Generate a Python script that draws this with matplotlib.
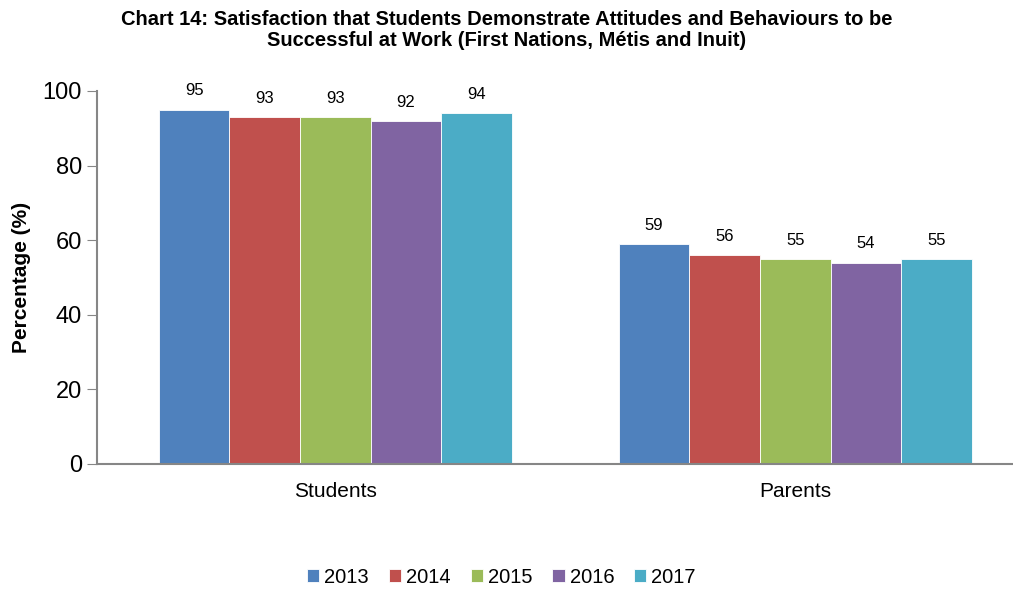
import numpy as np
import matplotlib.pyplot as plt

# data
groups = ["Students", "Parents"]
years = ["2013", "2014", "2015", "2016", "2017"]
v2013 = [95, 59]
v2014 = [93, 56]
v2015 = [93, 55]
v2016 = [92, 54]
v2017 = [94, 55]
series = [v2013, v2014, v2015, v2016, v2017]
colors = ["#4F81BD", "#C0504D", "#9BBB59", "#8064A2", "#4BACC6"]

plt.rcParams['font.family'] = ['Liberation Sans', 'DejaVu Sans']

fig = plt.figure(figsize=(10.13, 5.9), dpi=100)
ax = fig.add_axes([0.0958, 0.2136, 0.9042, 0.6322])

x = np.arange(len(groups))
w = 0.1535
for i in range(len(years)):
    pos = x + (i - 2) * w
    ax.bar(pos, series[i], width=w, color=colors[i], edgecolor="white",
           linewidth=0.6, label=years[i])
    for p, v in zip(pos, series[i]):
        ax.text(p, v + 3, str(v), ha="center", va="bottom", fontsize=12)

ax.set_xlim(-0.518, 1.473)
ax.set_ylim(0, 100)
ax.set_yticks([0, 20, 40, 60, 80, 100])
ax.set_xticks(x)
ax.set_xticklabels(groups, fontsize=15)
ax.tick_params(axis="y", labelsize=17, length=7, color="#868686", pad=4)
ax.tick_params(axis="x", length=0, pad=13)
for s in ["top", "right"]:
    ax.spines[s].set_visible(False)
for s in ["left", "bottom"]:
    ax.spines[s].set_color("#868686")
    ax.spines[s].set_linewidth(1.5)

ax.set_ylabel("Percentage (%)", fontsize=15, fontweight="bold")
ax.yaxis.set_label_coords(-0.072, 0.5)

fig.text(0.5, 0.949, "Chart 14: Satisfaction that Students Demonstrate Attitudes and Behaviours to be\nSuccessful at Work (First Nations, Métis and Inuit)",
         ha="center", va="center", fontsize=14.5, fontweight="bold", linespacing=1.1)

fig.legend(loc="center", bbox_to_anchor=(0.495, 0.022), ncol=5, frameon=False,
           fontsize=14.5, handlelength=0.6, handleheight=0.6, handletextpad=0.25,
           columnspacing=1.0)

fig.savefig("out.png", dpi=100)
